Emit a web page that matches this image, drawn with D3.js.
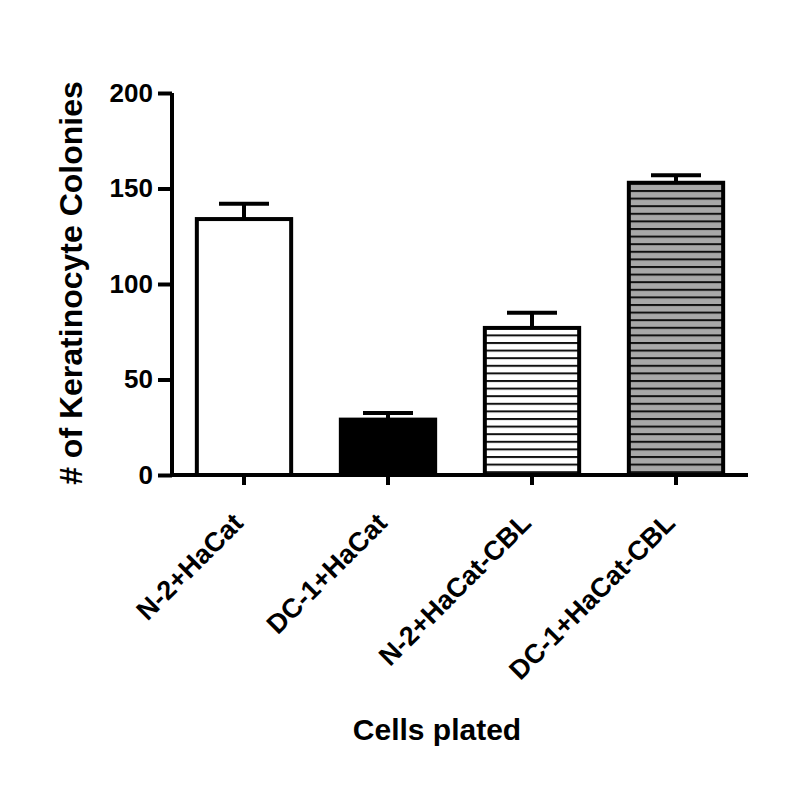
<!DOCTYPE html>
<html>
<head>
<meta charset="utf-8">
<script src="https://cdn.jsdelivr.net/npm/d3@7"></script>
<style>
  body { margin: 0; background: #fff; }
  text { font-family: "Liberation Sans", Arial, sans-serif; font-weight: bold; fill: #000; }
</style>
</head>
<body>
<svg id="chart" width="792" height="808"></svg>
<script>
// data
const categories = ["N-2+HaCat", "DC-1+HaCat", "N-2+HaCat-CBL", "DC-1+HaCat-CBL"];
const means = [134, 29, 77, 153];
const errors = [8, 3.5, 8, 4];
const fills = ["white", "black", "url(#stripeWhite)", "url(#stripeGray)"];
const yTicks = [0, 50, 100, 150, 200];

const svg = d3.select("#chart");

// stripe patterns for the CBL bars
const defs = svg.append("defs");
function stripe(id, bg) {
  let p = defs.append("pattern")
    .attr("id", id)
    .attr("patternUnits", "userSpaceOnUse")
    .attr("width", 10)
    .attr("height", 7.6);
  p.append("rect").attr("width", 10).attr("height", 7.6).attr("fill", bg);
  p.append("rect").attr("y", 0).attr("width", 10).attr("height", 2).attr("fill", "#111");
}
stripe("stripeWhite", "white");
stripe("stripeGray", "#a8a8a8");

const x = d3.scaleBand()
  .domain(categories)
  .range([172, 748]);

const y = d3.scaleLinear()
  .domain([0, 200])
  .range([475, 93]);

const barW = x.bandwidth() * 0.655;

// error bars (drawn first so bar outline sits on top)
const err = svg.append("g").selectAll("g")
  .data(categories)
  .enter()
  .append("g");

err.append("line")
  .attr("x1", d => x(d) + x.bandwidth() / 2)
  .attr("x2", d => x(d) + x.bandwidth() / 2)
  .attr("y1", (d, i) => y(means[i]))
  .attr("y2", (d, i) => y(means[i] + errors[i]))
  .attr("stroke", "black")
  .attr("stroke-width", 4);

err.append("line")
  .attr("x1", d => x(d) + x.bandwidth() / 2 - 25)
  .attr("x2", d => x(d) + x.bandwidth() / 2 + 25)
  .attr("y1", (d, i) => y(means[i] + errors[i]))
  .attr("y2", (d, i) => y(means[i] + errors[i]))
  .attr("stroke", "black")
  .attr("stroke-width", 4);

// bars
svg.append("g").selectAll("rect")
  .data(categories)
  .enter()
  .append("rect")
  .attr("x", d => x(d) + (x.bandwidth() - barW) / 2)
  .attr("y", (d, i) => y(means[i]))
  .attr("width", barW)
  .attr("height", (d, i) => y(0) - y(means[i]))
  .attr("fill", (d, i) => fills[i])
  .attr("stroke", "black")
  .attr("stroke-width", 4);

// y axis
const yAxis = svg.append("g")
  .attr("transform", "translate(172,0)")
  .call(d3.axisLeft(y).tickValues(yTicks).tickSize(14).tickPadding(5));
yAxis.select(".domain").attr("d", `M0,${y(200)}V${y(0)}`);

// x axis
const xAxis = svg.append("g")
  .attr("transform", `translate(0,${y(0)})`)
  .call(d3.axisBottom(x).tickSize(10).tickSizeOuter(0));
xAxis.select(".domain").attr("d", `M172,0H748`);

svg.selectAll(".domain").attr("stroke", "black").attr("stroke-width", 4);
svg.selectAll(".tick line").attr("stroke", "black").attr("stroke-width", 4);

yAxis.selectAll("text")
  .style("font-size", "26px");

xAxis.selectAll("text")
  .style("font-size", "27px")
  .attr("text-anchor", "end")
  .attr("transform", "translate(-6,43) rotate(-45)")
  .attr("x", 0)
  .attr("y", 0)
  .attr("dy", "0.35em");

// axis titles
svg.append("text")
  .attr("transform", "translate(82,283) rotate(-90)")
  .attr("text-anchor", "middle")
  .style("font-size", "32px")
  .text("# of Keratinocyte Colonies");

svg.append("text")
  .attr("x", 437)
  .attr("y", 740)
  .attr("text-anchor", "middle")
  .style("font-size", "30px")
  .text("Cells plated");
</script>
</body>
</html>
